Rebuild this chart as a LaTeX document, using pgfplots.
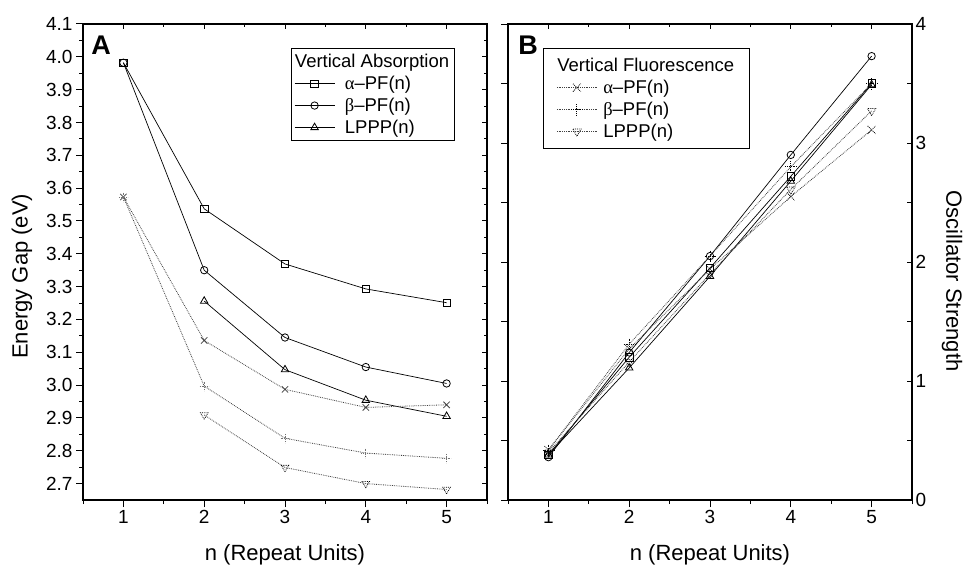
\documentclass[border=0pt]{standalone}
\usepackage{fontspec}
\setmainfont{Liberation Sans}
\newfontfamily\grk{Liberation Serif}
\usepackage{pgfplots}
\pgfplotsset{compat=1.18}

\pgfplotsset{
  panel/.style={
    scale only axis, width=404pt, height=476pt,
    xmin=0.5, xmax=5.5,
    xtick={1,2,3,4,5}, minor xtick={0.5,1.5,2.5,3.5,4.5,5.5},
    axis line style={line width=1.3pt},
    major tick style={line width=1pt, black},
    minor tick style={line width=1pt, black},
    major tick length=7pt, minor tick length=4pt,
    tick label style={font=\fontsize{19}{22}\selectfont},
    /pgf/number format/assume math mode=true,
    clip=false,
  },
  over/.style={tick pos=right, tick align=inside, xticklabels={},
    major tick length=5pt, minor tick length=3pt},
  abs/.style={black, line width=0.7pt, mark size=3.7pt, mark options={solid, black, line width=0.8pt}},
  flu/.style={black!75, densely dotted, line width=0.8pt, mark size=4.5pt, mark options={solid, line width=0.8pt}},
  legimg/.style={legend image code/.code={
    \draw[mark repeat=2,mark phase=2,##1] plot coordinates {(0pt,0pt) (20pt,0pt) (40pt,0pt)};}},
}
\newcommand\lab{\fontsize{22}{26}\selectfont}

\begin{document}
\begin{tikzpicture}
\useasboundingbox (0,0) rectangle (963pt,568pt);

% ---- panel A
\begin{axis}[panel, at={(83pt,68pt)}, anchor=south west,
  ymin=2.65, ymax=4.1,
  ytick={2.7,2.8,2.9,3.0,3.1,3.2,3.3,3.4,3.5,3.6,3.7,3.8,3.9,4.0,4.1},
  minor ytick={2.75,2.85,2.95,3.05,3.15,3.25,3.35,3.45,3.55,3.65,3.75,3.85,3.95,4.05},
  yticklabel style={/pgf/number format/.cd, fixed, fixed zerofill, precision=1},
  tick pos=left, tick align=outside,
  legimg,
  legend style={at={(rel axis cs:0.92,0.95)}, anchor=north east,
    draw=black, line width=1pt, font=\fontsize{18.5}{22}\selectfont,
    inner xsep=3pt, inner ysep=4pt, row sep=3pt, column sep=8pt},
  legend cell align=left,
]
\addlegendimage{empty legend}
\addlegendentry{\hspace*{-50pt}Vertical Absorption}
\addplot[abs, mark=square] coordinates {(1,3.982) (2,3.537) (3,3.369) (4,3.293) (5,3.251)};
\addlegendentry{{\grk α}–PF(n)}
\addplot[abs, mark=o] coordinates {(1,3.982) (2,3.350) (3,3.145) (4,3.055) (5,3.005)};
\addlegendentry{{\grk β}–PF(n)}
\addplot[abs, mark=triangle, mark size=4.3pt] coordinates {(2,3.256) (3,3.047) (4,2.954) (5,2.905)};
\addlegendentry{LPPP(n)}
\addplot[flu, mark=x, forget plot] coordinates {(1,3.573) (2,3.136) (3,2.987) (4,2.932) (5,2.940)};
\addplot[flu, mark=+, mark options={black!55}, forget plot] coordinates {(1,3.573) (2,2.997) (3,2.838) (4,2.793) (5,2.777)};
\addplot[flu, mark=triangle, mark size=4.3pt, mark options={rotate=180, black}, forget plot] coordinates {(2,2.909) (3,2.749) (4,2.700) (5,2.682)};
\node[anchor=north west, inner sep=0pt, font=\fontsize{27}{30}\selectfont\bfseries] at (rel axis cs:0.02,0.975) {A};
\node[rotate=90, font=\lab] at (rel axis cs:-0.151,0.47) {Energy Gap (eV)};
\node[font=\lab] at (rel axis cs:0.5,-0.1155) {n (Repeat Units)};
\end{axis}
\begin{axis}[panel, over, at={(83pt,68pt)}, anchor=south west,
  ymin=2.65, ymax=4.1, yticklabels={},
  ytick={2.7,2.8,2.9,3.0,3.1,3.2,3.3,3.4,3.5,3.6,3.7,3.8,3.9,4.0,4.1},
  minor ytick={2.75,2.85,2.95,3.05,3.15,3.25,3.35,3.45,3.55,3.65,3.75,3.85,3.95,4.05}]
\end{axis}

% ---- panel B
\begin{axis}[panel, at={(508pt,68pt)}, anchor=south west,
  ymin=0, ymax=4,
  ytick={0,0.5,1,1.5,2,2.5,3,3.5,4}, yticklabels={},
  tick pos=left, tick align=outside,
  legimg,
  legend style={at={(rel axis cs:0.0866,0.95)}, anchor=north west,
    draw=black, line width=1pt, font=\fontsize{18.5}{22}\selectfont,
    inner xsep=13pt, inner ysep=8pt, row sep=3pt, column sep=4pt},
  legend cell align=left,
]
\addlegendimage{empty legend}
\addlegendentry{\hspace*{-46pt}Vertical Fluorescence}
\addplot[abs, mark=square, forget plot] coordinates {(1,0.38) (2,1.20) (3,1.95) (4,2.72) (5,3.50)};
\addplot[abs, mark=o, forget plot] coordinates {(1,0.36) (2,1.24) (3,2.05) (4,2.90) (5,3.73)};
\addplot[abs, mark=triangle, mark size=4.3pt, forget plot] coordinates {(1,0.38) (2,1.11) (3,1.88) (4,2.68) (5,3.49)};
\addplot[flu, mark=x, mark size=5.5pt, mark options={black}] coordinates {(1,0.42) (2,1.27) (3,1.94) (4,2.55) (5,3.11)};
\addlegendentry{{\grk α}–PF(n)}
\addplot[flu, mark=+, mark size=5.5pt, mark options={black}] coordinates {(1,0.42) (2,1.31) (3,2.05) (4,2.80) (5,3.50)};
\addlegendentry{{\grk β}–PF(n)}
\addplot[flu, mark=triangle, mark size=4.8pt, mark options={rotate=180, black}] coordinates {(1,0.40) (2,1.16) (3,1.90) (4,2.61) (5,3.27)};
\addlegendentry{LPPP(n)}
\node[anchor=north west, inner sep=0pt, font=\fontsize{27}{30}\selectfont\bfseries] at (rel axis cs:0.025,0.975) {B};
\node[rotate=-90, font=\lab] at (rel axis cs:1.099,0.46) {Oscillator Strength};
\node[font=\lab] at (rel axis cs:0.5,-0.1155) {n (Repeat Units)};
\end{axis}
\begin{axis}[panel, over, at={(508pt,68pt)}, anchor=south west,
  ymin=0, ymax=4,
  ytick={0,0.5,1,1.5,2,2.5,3,3.5,4}, yticklabels={0,,1,,2,,3,,4},
  yticklabel pos=right]
\end{axis}
\end{tikzpicture}
\end{document}
